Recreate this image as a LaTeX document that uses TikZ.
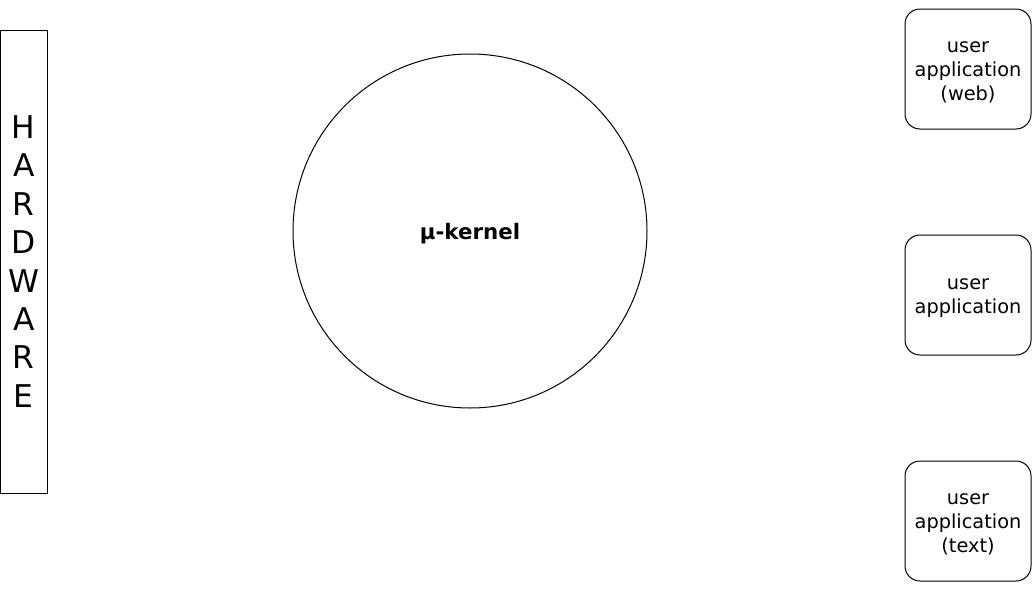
\documentclass[tikz,border=0pt]{standalone}
\usepackage{fontspec}
\setmainfont{DejaVu Sans}
\usepackage{tikz}

\newcommand{\apptop}{\rule{0pt}{13pt}}

\tikzset{
  appbox/.style={draw, line width=0.75pt, rounded corners=11.25pt, minimum width=94.5pt, minimum height=90pt, inner sep=0.75pt, align=center, font=\fontsize{14.5}{18}\selectfont},
  hwbox/.style={draw, line width=0.75pt, minimum width=35.25pt, minimum height=347.25pt, inner sep=0pt, align=center, font=\fontsize{23.5}{28.8}\selectfont}
}

\begin{document}
\begin{tikzpicture}[x=0.75pt,y=0.75pt,yscale=-1,xscale=1]
\useasboundingbox (0,0) rectangle (1033,593);
% hardware
\node [hwbox] (hardware) at (23.75,261.5) {H\\A\\R\\D\\W\\A\\R\\E};
% kernel
\draw [line width=0.75pt] (470,231) circle [radius=177];
\node [font=\bfseries\fontsize{16}{19}\selectfont] (kernel) at (470,233.5) {µ-kernel};
% applications
\node [appbox] (appweb) at (968,69) {\apptop user\\application\\(web)};
\node [appbox] (app) at (968,295) {\apptop user\\application};
\node [appbox] (apptext) at (968,521) {\apptop user\\application\\(text)};
\end{tikzpicture}
\end{document}
